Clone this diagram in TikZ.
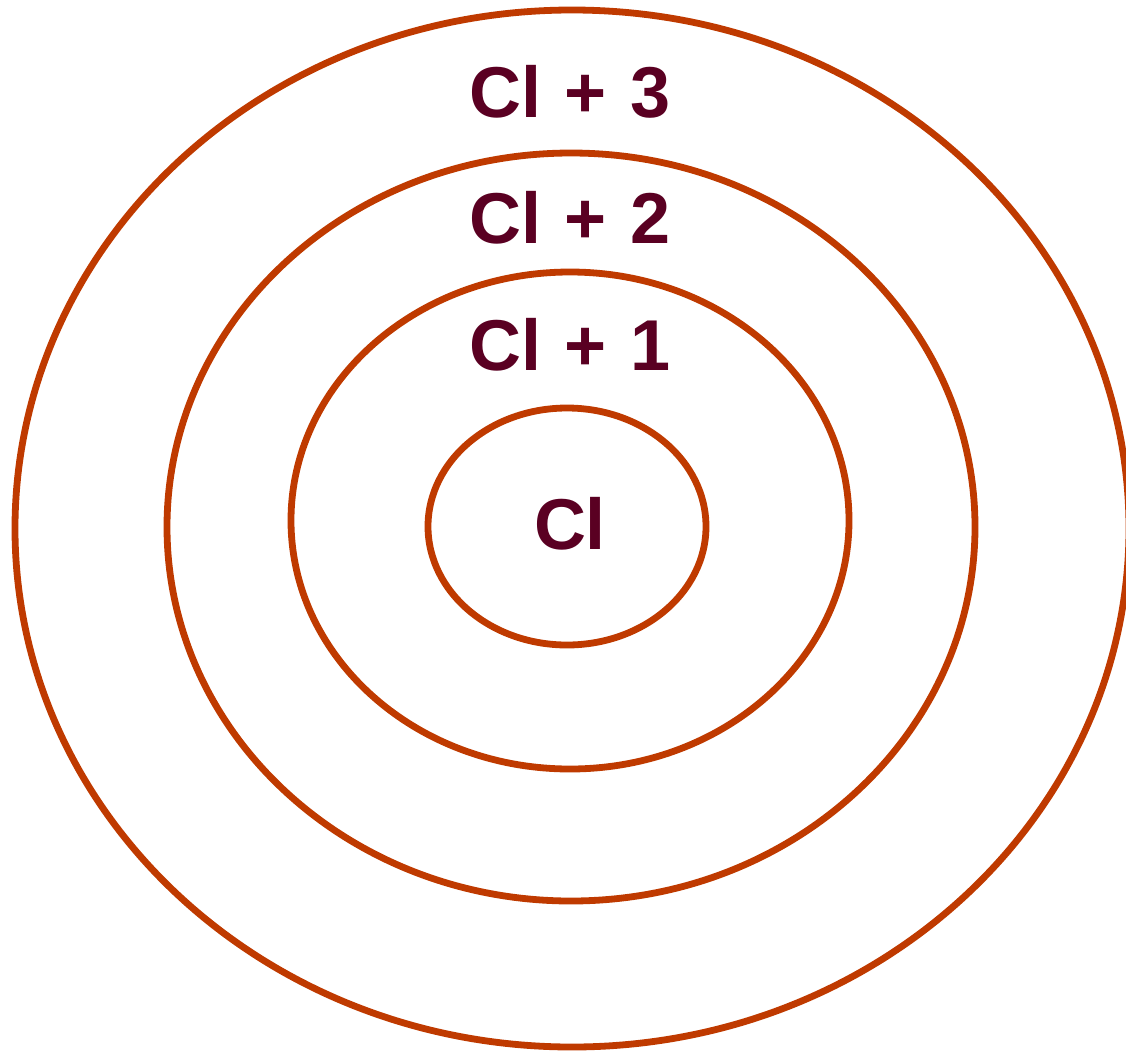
\documentclass[tikz,border=0pt]{standalone}
\usepackage{fontspec}
\setmainfont{Liberation Sans}
\usetikzlibrary{shapes.geometric}
\definecolor{ring}{HTML}{BF3A00}
\definecolor{lbl}{HTML}{5A0022}
\newcommand{\gapsp}{\hspace{0.33em}}
\begin{document}
\begin{tikzpicture}[x=1pt,y=-1pt,
  ringshape/.style={ellipse,draw=ring,line width=6.8pt,inner sep=0pt,outer sep=0pt},
  lab/.style={text=lbl,font=\fontsize{72}{72}\selectfont\bfseries,anchor=base,inner sep=0pt}]
\useasboundingbox (0,0) rectangle (1126,1050);
\node[ringshape,minimum width=1114pt,minimum height=1037pt] (r3) at (572,528.5) {};
\node[ringshape,minimum width=808pt,minimum height=748pt] (r2) at (571,527) {};
\node[ringshape,minimum width=558pt,minimum height=497pt] (r1) at (570,520.5) {};
\node[ringshape,minimum width=278pt,minimum height=237pt] (r0) at (567,526.5) {};
\node[lab] (t3) at (570,117) {Cl\gapsp+\gapsp3};
\node[lab] (t2) at (570,243) {Cl\gapsp+\gapsp2};
\node[lab] (t1) at (570,370) {Cl\gapsp+\gapsp1};
\node[lab] (t0) at (570,549) {Cl};
\end{tikzpicture}
\end{document}
